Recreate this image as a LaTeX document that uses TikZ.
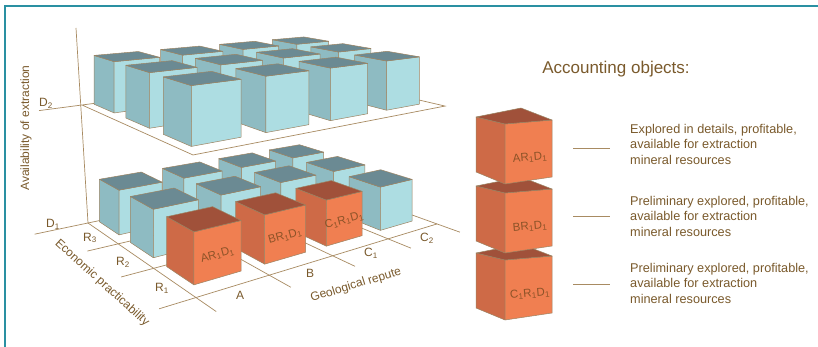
\documentclass[tikz,border=0pt]{standalone}
\usepackage{fontspec}
\setmainfont{Liberation Sans}
\usetikzlibrary{calc}
\definecolor{bTop}{HTML}{6B8A93}
\definecolor{bLeft}{HTML}{8EBBC2}
\definecolor{bFront}{HTML}{ADDDE2}
\definecolor{oTop}{HTML}{A0513A}
\definecolor{oLeft}{HTML}{CE6A47}
\definecolor{oFront}{HTML}{F07F51}
\definecolor{edgec}{HTML}{9C8463}
\definecolor{gridc}{HTML}{A88B62}
\definecolor{txt}{HTML}{7A5A2C}
\definecolor{olab}{HTML}{8D5328}
\definecolor{framec}{HTML}{2A90A2}
% level parameters (perspective of each floor)
\newcommand\setlev[1]{\ifnum#1=1
  \def\LX{0.0603}\def\LY{-0.0745}\def\VXU{1213}\def\VXV{-13}\def\VYU{-287}\def\VYV{-36}\def\OU{88}\def\OV{223}\def\KK{0.831}%
 \else
  \def\LX{0.06357}\def\LY{-0.07505}\def\VXU{1213}\def\VXV{-43}\def\VYU{-300}\def\VYV{-67}\def\OU{82}\def\OV{105}\def\KK{0.704}%
 \fi}
% point: name, x, y, t (0 = floor, 1 = cube top)
\newcommand\gpt[4]{%
 \pgfmathsetmacro\gD{(\LX)*(#2)+(\LY)*(#3)+1}%
 \pgfmathsetmacro\gU{((\LX)*(#2)*(\VXU)+(\LY)*(#3)*(\VYU)+(\OU))/\gD}%
 \pgfmathsetmacro\gV{((\LX)*(#2)*(\VXV)+(\LY)*(#3)*(\VYV)+(\OV))/\gD}%
 \pgfmathsetmacro\gF{((\gU)-(\VYU))/((\VXU)-(\VYU))}%
 \pgfmathsetmacro\gH{(\VYV)+\gF*((\VXV)-(\VYV))}%
 \pgfmathsetmacro\gW{(\gV)-(#4)*(1-(\KK))*((\gV)-(\gH))}%
 \coordinate (#1) at (\gU,\gW);}
% cube: level, x0, y0, colour prefix (b/o)
\newcommand\gcube[4]{%
 \setlev{#1}%
 \pgfmathsetmacro\xa{#2}\pgfmathsetmacro\xb{#2+0.65}%
 \pgfmathsetmacro\ya{#3}\pgfmathsetmacro\yb{#3+0.65}%
 \gpt{cA}{\xa}{\yb}{0}\gpt{cB}{\xb}{\yb}{0}\gpt{cC}{\xa}{\ya}{0}%
 \gpt{tA}{\xa}{\yb}{1}\gpt{tB}{\xb}{\yb}{1}\gpt{tC}{\xa}{\ya}{1}\gpt{tD}{\xb}{\ya}{1}%
 \filldraw[fill=#4Left,cubeedge] (cC)--(cA)--(tA)--(tC)--cycle;
 \filldraw[fill=#4Front,cubeedge] (cA)--(cB)--(tB)--(tA)--cycle;
 \filldraw[fill=#4Top,cubeedge] (tA)--(tB)--(tD)--(tC)--cycle;}
% label on front face: level, x0, y0, name, text
\newcommand\glab[5]{%
 \setlev{#1}%
 \pgfmathsetmacro\xa{#2}\pgfmathsetmacro\xb{#2+0.65}\pgfmathsetmacro\yb{#3+0.65}%
 \gpt{mA}{\xa}{\yb}{0.45}\gpt{mB}{\xb}{\yb}{0.45}%
 \path (mA) -- (mB) node[midway,sloped,cubelab] (#4) {#5};}
% legend cube: vertical offset, name, label
\newcommand\lcube[3]{%
 \begin{scope}[shift={(0,#1)}]
 \filldraw[fill=oLeft,cubeedge] (476,117)--(505,124)--(505,184)--(476,172)--cycle;
 \filldraw[fill=oFront,cubeedge] (505,124)--(552,120)--(552,177)--(505,184)--cycle;
 \filldraw[fill=oTop,cubeedge] (476,117)--(521,108)--(552,120)--(505,124)--cycle;
 \node[cubelab,rotate=5] (#2) at (530,158) {#3};
 \end{scope}}
\newcommand\sbs[1]{\textsubscript{#1}}
\begin{document}
\begin{tikzpicture}[x=1pt,y=-1pt,
  cubeedge/.style={draw=edgec,line width=0.5pt,line join=round},
  cubelab/.style={text=olab,font=\fontsize{11.5}{13}\selectfont,inner sep=0pt},
  axlab/.style={text=txt,font=\fontsize{12}{14}\selectfont,inner sep=0pt},
  gl/.style={draw=gridc,line width=0.7pt},
  legtext/.style={text=txt,font=\fontsize{12.7}{15.5}\selectfont,align=left,anchor=west,inner sep=0pt}]
\useasboundingbox (0,0) rectangle (818,347);
\fill[white] (0,0) rectangle (818,347);
\draw[framec,line width=2pt] (5,347) -- (5,6) -- (818,6);
% vertical axis
\coordinate (axtop) at (76,28);
\coordinate (axbot) at (88,223);
\draw[gl] (axtop) -- (axbot);
% lower floor grid
\setlev{1}
\foreach \k/\s in {0/-0.75,1/-0.42,2/-0.42,3/-0.45}{\gpt{ga}{\s}{\k}{0}\gpt{gb}{4}{\k}{0}\draw[gl] (ga)--(gb);}
\foreach \k in {0,...,4}{\gpt{ga}{\k}{0}{0}\gpt{gb}{\k}{3.42}{0}\draw[gl] (ga)--(gb);}
% lower cubes
\foreach \r in {0,1,2}{
  \foreach \c in {3,2,1,0}{
    \pgfmathtruncatemacro\isor{and(\r==2,\c<3)}
    \ifnum\isor=1 \def\cc{o}\else\def\cc{b}\fi
    \gcube{1}{\c+0.15}{\r+0.05}{\cc}
  }
}
\glab{1}{0.15}{2.05}{labA}{AR\sbs{1}D\sbs{1}}
\glab{1}{1.15}{2.05}{labB}{BR\sbs{1}D\sbs{1}}
\glab{1}{2.15}{2.05}{labC}{C\sbs{1}R\sbs{1}D\sbs{1}}
% upper floor
\setlev{2}
\gpt{qa}{-0.576}{0}{0}\gpt{qb}{4}{0}{0}\gpt{qc}{4}{3}{0}\gpt{qd}{0}{3}{0}\gpt{qe}{0}{0}{0}
\draw[gl] (qa)--(qb)--(qc)--(qd)--(qe);
\foreach \r in {0,1,2}{
  \foreach \c in {3,2,1,0}{
    \gcube{2}{\c+0.15}{\r+0.05}{b}
  }
}
% axis labels
\node[axlab] (d2) at (46,103) {D\sbs{2}};
\node[axlab] (d1) at (53,224) {D\sbs{1}};
\node[axlab] (r3) at (90,238) {R\sbs{3}};
\node[axlab] (r2) at (123,262) {R\sbs{2}};
\node[axlab] (r1) at (162,288) {R\sbs{1}};
\node[axlab] (ga) at (240,295) {A};
\node[axlab] (gb) at (310,273) {B};
\node[axlab] (gc1) at (371,253) {C\sbs{1}};
\node[axlab] (gc2) at (427,238) {C\sbs{2}};
\node[axlab,rotate=90] (avail) at (26,128) {Availability of extraction};
\node[axlab,rotate=-42] (econ) at (102,283) {Economic practicability};
\node[axlab,rotate=17] (geol) at (356,285) {Geological repute};
% legend
\node[text=txt,font=\fontsize{17}{20}\selectfont,inner sep=0pt] (title) at (616,69) {Accounting objects:};
\lcube{136}{lc3}{C\sbs{1}R\sbs{1}D\sbs{1}}
\lcube{69}{lc2}{BR\sbs{1}D\sbs{1}}
\lcube{0}{lc1}{AR\sbs{1}D\sbs{1}}
\coordinate (l1a) at (573,148); \coordinate (l1b) at (610,148);
\coordinate (l2a) at (573,216); \coordinate (l2b) at (610,216);
\coordinate (l3a) at (573,284); \coordinate (l3b) at (610,284);
\draw[gl] (l1a)--(l1b); \draw[gl] (l2a)--(l2b); \draw[gl] (l3a)--(l3b);
\node[legtext] (t1) at (630,144) {Explored in details, profitable,\\available for extraction\\mineral resources};
\node[legtext] (t2) at (630,216) {Preliminary explored, profitable,\\available for extraction\\mineral resources};
\node[legtext] (t3) at (630,283) {Preliminary explored, profitable,\\available for extraction\\mineral resources};
\end{tikzpicture}
\end{document}
